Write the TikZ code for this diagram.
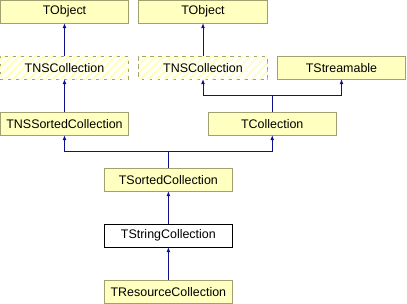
\documentclass[tikz,border=0pt]{standalone}
\usepackage{fontspec}
\setmainfont{Liberation Sans}
\usepackage{xcolor}
\usepackage{tikz}
\usetikzlibrary{arrows.meta, positioning, calc, patterns.meta}
\definecolor{clsfill}{HTML}{FFFFC0}
\definecolor{clsdraw}{HTML}{A0A070}
\definecolor{inhblue}{HTML}{10108C}
\tikzset{
  cls/.style={rectangle, draw=clsdraw, line width=1bp, fill=clsfill,
              minimum width=128.5bp, minimum height=23bp, outer sep=0pt,
              inner sep=0pt, align=center,
              font=\fontsize{12.5}{14}\selectfont},
  hcls/.style={cls, dashed, dash pattern=on 5bp off 3bp, fill=white,
               postaction={pattern={Lines[angle=45,distance=6bp,line width=2.6bp]},
                           pattern color=clsfill}},
  ccls/.style={cls, draw=black, fill=white},
  arr/.style={-{Latex[length=5bp,width=4bp]}, line width=1bp, draw=inhblue},
}
\begin{document}
\begin{tikzpicture}[node distance=33bp and 10bp]
  \useasboundingbox (0,0) rectangle (407bp,-304bp);
  \node[cls]  at (64.5bp,-11.6bp)     (tobjA)   {TObject};
  \node[cls,  right=of tobjA]         (tobjB)   {TObject};
  \node[hcls, below=of tobjA]         (nscA)    {TNSCollection};
  \node[hcls, below=of tobjB]         (nscB)    {TNSCollection};
  \node[cls,  right=of nscB]          (tstream) {TStreamable};
  \node[cls,  below=of nscA]          (nssort)  {TNSSortedCollection};
  \coordinate (midB) at ($(nscB.south)!0.5!(tstream.south)$);
  \coordinate (jB)   at ($(midB)+(0,-16.5bp)$);
  \node[cls,  below=of midB]          (tcoll)   {TCollection};
  \coordinate (midS) at ($(nssort.south)!0.5!(tcoll.south)$);
  \coordinate (jS)   at ($(midS)+(0,-16.5bp)$);
  \node[cls,  below=of midS]          (tsort)   {TSortedCollection};
  \node[ccls, below=of tsort]         (tstr)    {TStringCollection};
  \node[cls,  below=of tstr]          (tres)    {TResourceCollection};
  \draw[arr](nscA)--(tobjA);
  \draw[arr](nssort)--(nscA);
  \draw[arr](nscB)--(tobjB);
  \draw[arr](tcoll.north)--(jB)-|(nscB.south);
  \draw[arr](tcoll.north)--(jB)-|(tstream.south);
  \draw[arr](tsort.north)--(jS)-|(nssort.south);
  \draw[arr](tsort.north)--(jS)-|(tcoll.south);
  \draw[arr](tstr)--(tsort);
  \draw[arr](tres)--(tstr);
\end{tikzpicture}
\end{document}
